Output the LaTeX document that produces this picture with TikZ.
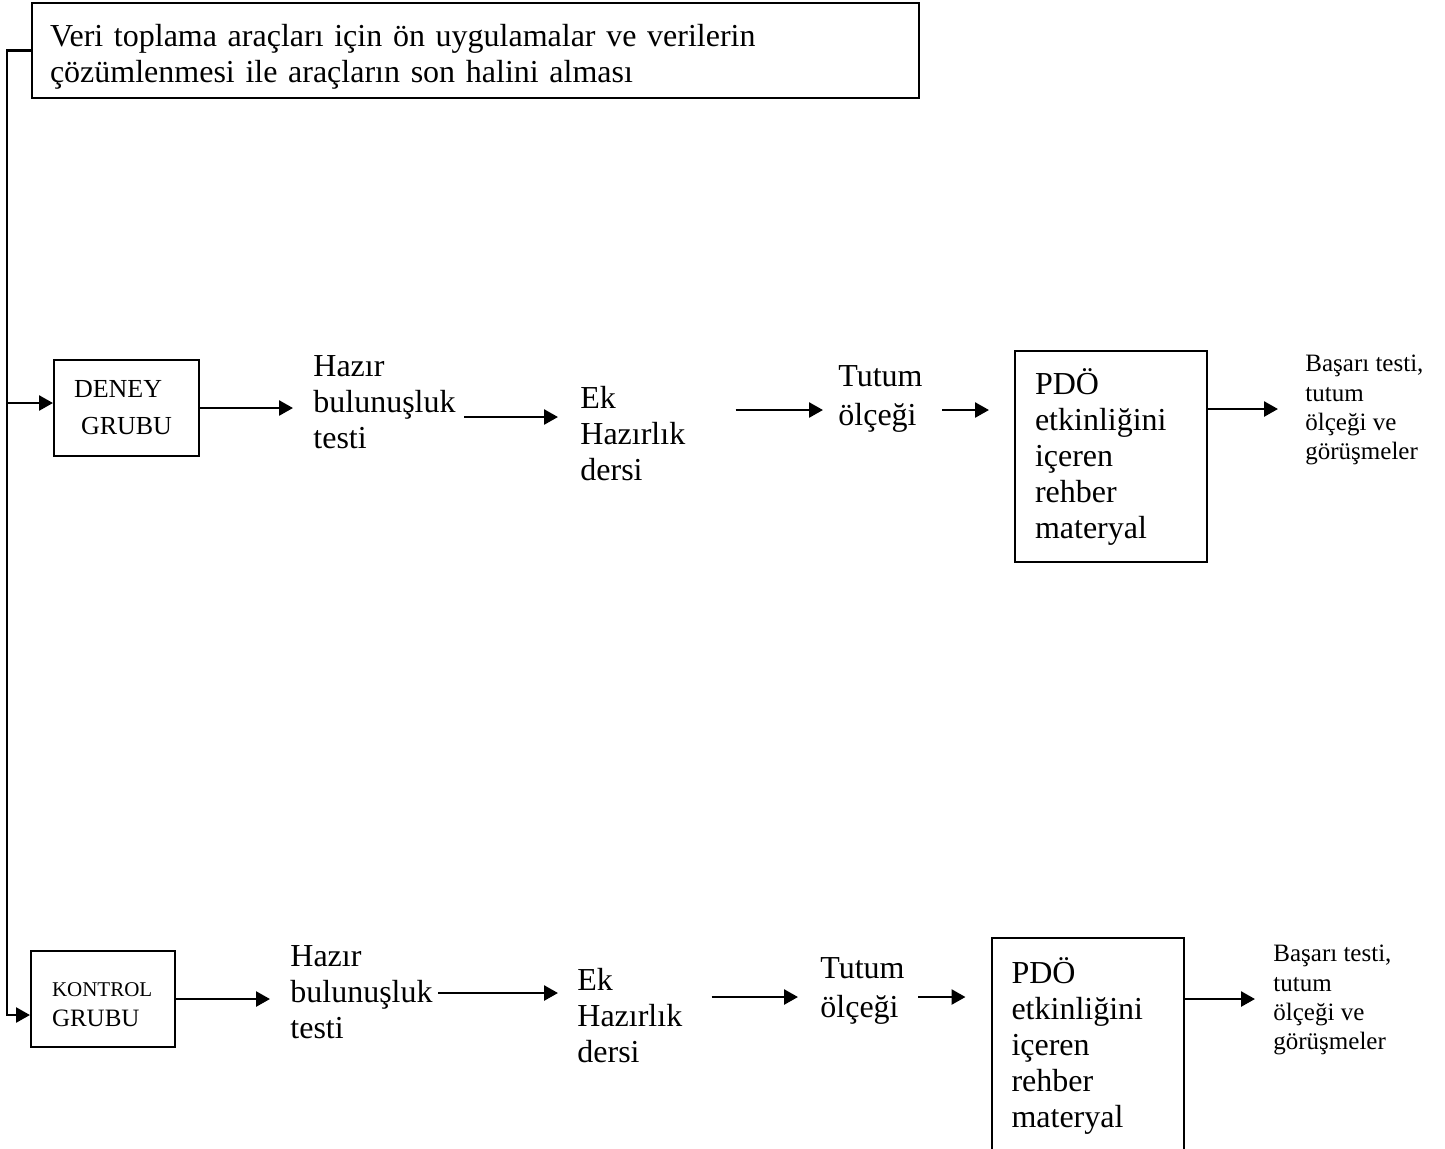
\documentclass[tikz,border=0pt]{standalone}
\usepackage{fontspec}
\setmainfont{Liberation Serif}
\usetikzlibrary{arrows.meta}

\begin{document}
\begin{tikzpicture}[%
            x=0.5pt, y=-0.5pt,
            mybox/.style={draw, line width=1pt, align=left, inner ysep=0pt},
            mytext/.style={anchor=north west, inner sep=0pt, align=left, font=\fontsize{16}{18}\selectfont},
            mysmall/.style={anchor=north west, inner sep=0pt, align=left, font=\fontsize{12.5}{14.6}\selectfont},
            myarrow/.style={line width=1.3pt, -{Triangle[length=7pt,width=7.5pt]}}
    ]
        \useasboundingbox (0,0) rectangle (1445,1148);

        \node [mybox, anchor=north west, minimum width=443.5pt, minimum height=47.5pt,
               text width=425.5pt, inner xsep=9pt, font=\fontsize{16}{18}\selectfont]
            (hazirlik) at (31,2) {\rule{0pt}{17pt}Veri toplama araçları için ön uygulamalar ve verilerin\\
            çözümlenmesi ile araçların son halini alması};

        % deney grubu
        \node [mybox, minimum width=72.5pt, minimum height=48pt, text width=52.5pt, inner xsep=10pt,
               font=\fontsize{13}{18.5}\selectfont] (deney) at (126.5,408) {DENEY\\\hspace*{3.5pt}GRUBU};
        \node [mytext] (hazir1) at (313,355) {Hazır\\bulunuşluk\\testi};
        \node [mytext] (ek1) at (580,386) {Ek\\Hazırlık\\dersi};
        \node [mytext] (tutum1) at (838,365) {Tutum\\[1.5pt]ölçeği};
        \node [mybox, minimum width=96pt, minimum height=105.5pt, text width=76pt, inner xsep=10pt,
               font=\fontsize{16}{18}\selectfont] (pdo1) at (1111,456.5)
            {PDÖ\\etkinliğini\\içeren\\rehber\\materyal};
        \node [mysmall] (basari1) at (1305,355) {Başarı testi,\\tutum\\ölçeği ve\\görüşmeler};

        \draw [myarrow, shorten >=10pt] (deney.east) -- (deney.east -| hazir1.west);
        \draw [myarrow, shorten <=4pt, shorten >=11pt]
            ([yshift=-31pt]hazir1.north east) -- ([yshift=-31pt]hazir1.north east -| ek1.west);
        \draw [myarrow, shorten <=25pt, shorten >=7.5pt]
            ([yshift=-12pt]ek1.north east) -- ([yshift=-12pt]ek1.north east -| tutum1.west);
        \draw [myarrow, shorten <=9.5pt, shorten >=12.5pt]
            ([yshift=-22.5pt]tutum1.north east) -- ([yshift=-22.5pt]tutum1.north east -| pdo1.west);
        \draw [myarrow, shorten >=13.5pt]
            ([yshift=23.75pt]pdo1.east) -- ([yshift=23.75pt]pdo1.east -| basari1.west);

        % kontrol grubu
        \node [mybox, minimum width=72pt, minimum height=48pt, text width=51pt, inner xsep=10.5pt,
               text depth=9pt, font=\fontsize{12.5}{15}\selectfont] (kontrol) at (103,999)
            {{\fontsize{10.5}{15}\selectfont KONTROL}\\GRUBU};
        \node [mytext] (hazir2) at (290,945) {Hazır\\bulunuşluk\\testi};
        \node [mytext] (ek2) at (577,968) {Ek\\Hazırlık\\dersi};
        \node [mytext] (tutum2) at (820,957) {Tutum\\[1.5pt]ölçeği};
        \node [mybox, minimum width=96pt, minimum height=108pt, text width=76pt, inner xsep=10pt,
               font=\fontsize{16}{18}\selectfont] (pdo2) at (1087.5,1046)
            {PDÖ\\etkinliğini\\içeren\\rehber\\materyal};
        \node [mysmall] (basari2) at (1273,945) {Başarı testi,\\tutum\\ölçeği ve\\görüşmeler};

        \draw [myarrow, shorten >=10pt] (kontrol.east) -- (kontrol.east -| hazir2.west);
        \draw [myarrow, shorten <=2.5pt, shorten >=9.5pt]
            ([yshift=-24pt]hazir2.north east) -- ([yshift=-24pt]hazir2.north east -| ek2.west);
        \draw [myarrow, shorten <=14.5pt, shorten >=11pt]
            ([yshift=-14.5pt]ek2.north east) -- ([yshift=-14.5pt]ek2.north east -| tutum2.west);
        \draw [myarrow, shorten <=6.5pt, shorten >=12.5pt]
            ([yshift=-20pt]tutum2.north east) -- ([yshift=-20pt]tutum2.north east -| pdo2.west);
        \draw [myarrow, shorten >=9pt]
            ([yshift=23.5pt]pdo2.east) -- ([yshift=23.5pt]pdo2.east -| basari2.west);

        % sol baglanti
        \draw [myarrow] (hazirlik.west) -| ([xshift=-11.5pt,yshift=-8pt]kontrol.west)
            -- ([yshift=-8pt]kontrol.west);
        \draw [myarrow] ([xshift=-23pt,yshift=2.5pt]deney.west) -- ([yshift=2.5pt]deney.west);
    \end{tikzpicture}
\end{document}
